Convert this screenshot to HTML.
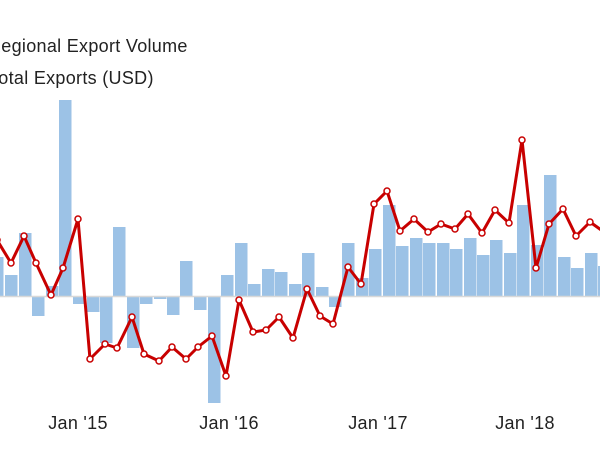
<!DOCTYPE html>
<html><head><meta charset="utf-8"><style>
html,body{margin:0;padding:0;background:#fff;width:600px;height:450px;overflow:hidden}
svg{display:block}
text{font-family:"Liberation Sans",Arial,sans-serif;fill:#222}
</style></head><body>
<svg width="600" height="450" viewBox="0 0 600 450">
<text x="-12" y="52" font-size="18" letter-spacing="0.3">Regional Export Volume</text>
<text x="-11" y="84" font-size="18" letter-spacing="0.3">Total Exports (USD)</text>
<g fill="#9cc2e6" id="bars"></g>
<line x1="0" y1="296.5" x2="600" y2="296.5" stroke="#d8d8d8" stroke-width="1.5"/>
<polyline id="ln" fill="none" stroke="#c80000" stroke-width="3" stroke-linejoin="round"/>
<g id="pts" fill="#fff" stroke="#c80000" stroke-width="1.5"></g>
<g font-size="18" text-anchor="middle" letter-spacing="0.3">
<text x="78" y="429">Jan '15</text>
<text x="229" y="429">Jan '16</text>
<text x="378" y="429">Jan '17</text>
<text x="525" y="429">Jan '18</text>
</g>
</svg>
<script>
var L=[-9,5,19,32,46,59,73,87,100,113,127,140,154,167,180,194,208,221,235,248,262,275,289,302,316,329,342,356,369,383,396,410,423,437,450,464,477,490,504,517,531,544,558,571,585,598];
var V=[257,275,233,316,286,100,304,312,343,227,348,304,299,315,261,310,403,275,243,284,269,272,284,253,287,307,243,278,249,205,246,238,243,243,249,238,255,240,253,205,245,175,257,268,253,266];
var z=296,ns="http://www.w3.org/2000/svg",g=document.getElementById("bars");
for(var i=0;i<L.length;i++){var r=document.createElementNS(ns,"rect");var y=Math.min(V[i],z),h=Math.abs(V[i]-z);r.setAttribute("x",L[i]);r.setAttribute("y",y);r.setAttribute("width",12.5);r.setAttribute("height",h);g.appendChild(r);}
var P=[[-3,240],[11,263],[24,236],[36,263],[51,295],[63,268],[78,219],[90,359],[105,344],[117,348],[132,317],[144,354],[159,361],[172,347],[186,359],[198,347],[212,336],[226,376],[239,300],[253,332],[266,330],[279,317],[293,338],[307,289],[320,316],[333,324],[348,267],[361,284],[374,204],[387,191],[400,231],[414,219],[428,232],[441,224],[455,229],[468,214],[482,233],[495,210],[509,223],[522,140],[536,268],[549,224],[563,209],[576,236],[590,222],[604,232]];
document.getElementById("ln").setAttribute("points",P.map(function(p){return p.join(",")}).join(" "));
var pg=document.getElementById("pts");
P.forEach(function(p){var c=document.createElementNS(ns,"circle");c.setAttribute("cx",p[0]);c.setAttribute("cy",p[1]);c.setAttribute("r",3);pg.appendChild(c);});
</script>
</body></html>
